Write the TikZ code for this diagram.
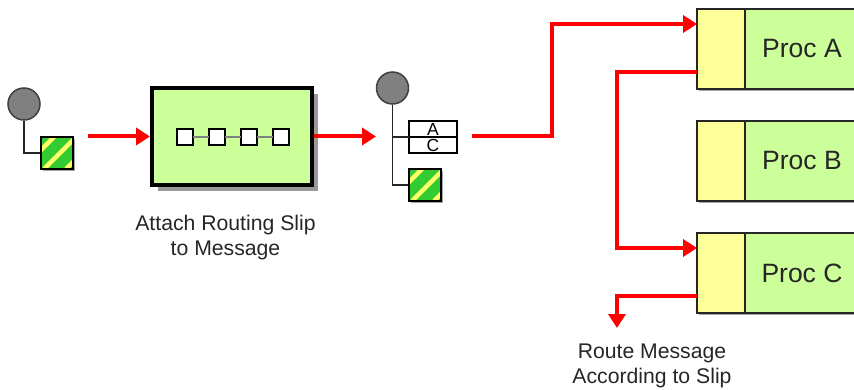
\documentclass[tikz,border=0pt]{standalone}
\usepackage{fontspec}
\setmainfont{Liberation Sans}
\usetikzlibrary{arrows.meta,positioning,shadows}
\definecolor{procgreen}{RGB}{204,255,153}
\definecolor{procyellow}{RGB}{255,255,153}
\definecolor{slipgreen}{RGB}{51,204,51}
\definecolor{slipyellow}{RGB}{255,255,102}
\definecolor{headgray}{RGB}{128,128,128}
\tikzset{
  boxshadow/.style={drop shadow={shadow xshift=2pt,shadow yshift=-2pt,fill=black,opacity=.35}},
  msghead/.style={circle,draw=black!75,line width=1.5pt,fill=headgray,minimum size=32pt,inner sep=0pt},
  msgline/.style={draw=black!85,line width=1.8pt},
  slipbox/.style={rectangle,draw=black,line width=1.5pt,fill=slipgreen,minimum size=32pt,inner sep=0pt,boxshadow,
    path picture={
      \draw[slipyellow,line width=4.5pt] ([xshift=-19pt]path picture bounding box.south west)--([xshift=-19pt]path picture bounding box.north east);
      \draw[slipyellow,line width=4.5pt] ([xshift=3pt]path picture bounding box.south west)--([xshift=3pt]path picture bounding box.north east);
      \draw[slipyellow,line width=4.5pt] ([xshift=25pt]path picture bounding box.south west)--([xshift=25pt]path picture bounding box.north east);
    }},
  slipcell/.style={rectangle,draw=black,line width=1.5pt,minimum width=48pt,minimum height=16pt,inner sep=0pt,outer sep=0pt,font=\fontsize{17.5}{17.5}\selectfont},
  stepbox/.style={rectangle,draw=black,line width=1.5pt,fill=white,minimum size=16pt,inner sep=0pt,outer sep=0pt},
  bigbox/.style={rectangle,draw=black,line width=4pt,fill=procgreen,minimum width=160pt,minimum height=97pt,inner sep=0pt,
    drop shadow={shadow xshift=6pt,shadow yshift=-6pt,fill=black,opacity=.4}},
  queuebox/.style={rectangle,draw=black!85,line width=1.5pt,fill=procyellow,minimum width=48pt,minimum height=80pt,inner sep=0pt},
  procbox/.style={rectangle,draw=black!85,line width=1.5pt,fill=procgreen,minimum width=173pt,minimum height=80pt,inner sep=0pt,boxshadow},
  proclabel/.style={font=\fontsize{26.5}{26.5}\selectfont,text=black!85,anchor=center},
  caption/.style={align=center,font=\fontsize{21.2}{25}\selectfont,text=black!85},
  redarrow/.style={draw=red,line width=4pt,-{Triangle[length=14pt,width=17pt]}}
}
\begin{document}
\begin{tikzpicture}[x=1pt,y=-1pt]
\useasboundingbox (0,0) rectangle (854,390);
% message before
\node[msghead] (headone) at (24,104) {};
\node[slipbox] (slipone) at (57,153) {};
\draw[msgline] (headone.south) |- (slipone.west);
% router
\node[bigbox] (attach) at (232,136.5) {};
\node[stepbox] (stepa) at (185,137) {};
\node[stepbox,right=16pt of stepa] (stepb) {};
\node[stepbox,right=16pt of stepb] (stepc) {};
\node[stepbox,right=16pt of stepc] (stepd) {};
\draw[black!50,line width=1.5pt] (stepa)--(stepb);
\draw[black!50,line width=1.5pt] (stepb)--(stepc);
\draw[black!50,line width=1.5pt] (stepc)--(stepd);
\node[caption] (attachtext) at (225.5,238) {Attach Routing Slip\\to Message};
% message with slip
\node[msghead] (headtwo) at (392.5,88) {};
\node[slipcell] (cella) at (433,129) {A};
\node[slipcell,below=0pt of cella] (cellc) {C};
\draw[black,line width=1.5pt] (cella.north west) rectangle (cellc.south east);
\draw[black,line width=1.5pt] (cella.south west)--(cella.south east);
\node[slipbox] (sliptwo) at (425,185) {};
\coordinate (branch) at (headtwo.south |- cella.south);
\draw[msgline] (headtwo.south) |- (sliptwo.west);
\draw[msgline] (branch) -- (cella.south west);
% processors
\node[procbox] (proca) at (783.5,49) {};
\node[procbox] (procb) at (783.5,161) {};
\node[procbox] (procc) at (783.5,273) {};
\node[queuebox] (queuea) at (721,49) {};
\node[queuebox] (queueb) at (721,161) {};
\node[queuebox] (queuec) at (721,273) {};
\node[proclabel] (texta) at (802,49) {Proc A};
\node[proclabel] (textb) at (802,161) {Proc B};
\node[proclabel] (textc) at (802,273) {Proc C};
\node[caption] (routetext) at (652,366) {Route Message\\According to Slip};
% red connectors
\coordinate (outa) at (697,72);
\coordinate (ina) at (697,24);
\coordinate (inc) at (697,248);
\coordinate (outc) at (697,296);
\coordinate (start) at (472,136);
\coordinate (startone) at (88,136.5);
\coordinate (endtwo) at (376,136.5);
\coordinate (endroute) at (617,328);
\draw[redarrow] (startone) -- (attach.west);
\draw[redarrow] (attach.east) -- (endtwo);
\draw[redarrow] (start) -- (552,136) -- (552,24) -- (ina);
\draw[redarrow] (outa) -- (617,72) -- (617,248) -- (inc);
\draw[redarrow] (outc) -- (617,296) -- (endroute);
\end{tikzpicture}
\end{document}
